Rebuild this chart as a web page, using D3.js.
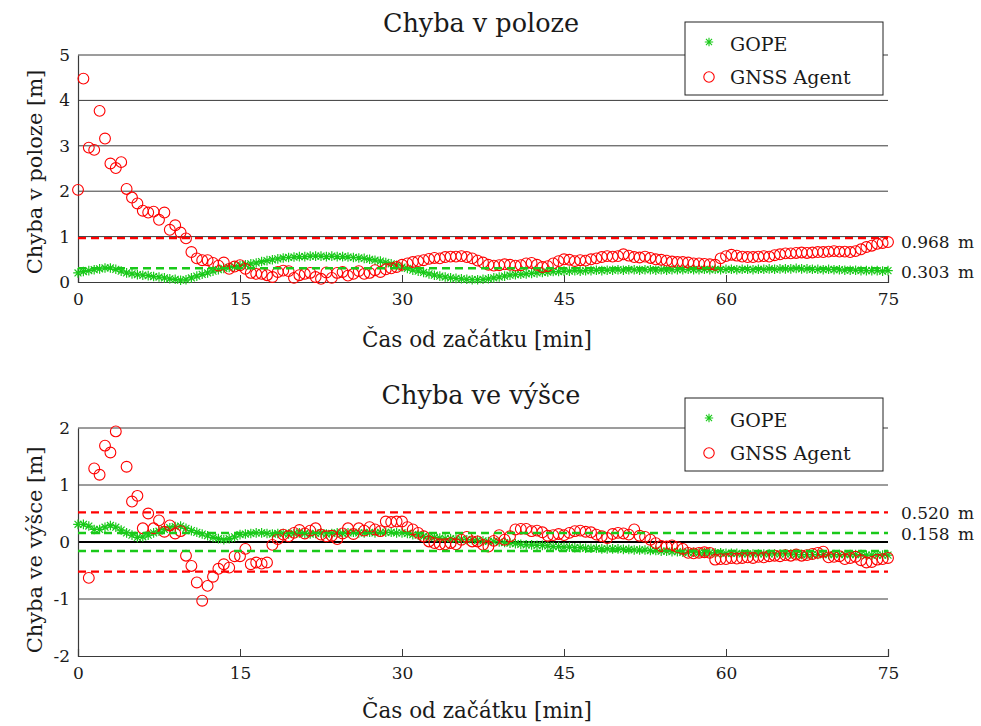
<!DOCTYPE html>
<html>
<head>
<meta charset="utf-8">
<script src="https://cdn.jsdelivr.net/npm/d3@7"></script>
<style>
  html, body { margin: 0; padding: 0; background: #fff; }
  svg { display: block; }
  text { font-family: "DejaVu Serif", serif; fill: #1a1a1a; }
</style>
</head>
<body>
<svg id="chart" width="981" height="726"></svg>
<script>
// Sampling interval of both receivers (minutes)
const stepMin = 0.5;

// Horizontal position error [m], one value every 0.5 min from 0 to 75 min
const gopePos = [
  0.20,0.23,0.25,0.27,0.29,0.31,0.31,0.28,0.24,0.20,0.18,0.16,0.15,0.14,0.12,0.11,0.09,0.07,0.06,0.04,
  0.05,0.09,0.13,0.17,0.20,0.24,0.27,0.30,0.32,0.34,0.36,0.38,0.40,0.42,0.45,0.47,0.49,0.51,0.53,0.54,
  0.55,0.56,0.56,0.57,0.57,0.57,0.56,0.57,0.56,0.56,0.55,0.54,0.53,0.52,0.50,0.48,0.46,0.43,0.40,0.37,
  0.33,0.30,0.26,0.24,0.21,0.18,0.15,0.13,0.11,0.09,0.08,0.07,0.06,0.05,0.05,0.06,0.07,0.09,0.11,0.13,
  0.15,0.16,0.17,0.18,0.19,0.20,0.21,0.22,0.23,0.23,0.24,
  0.24,0.25,0.24,0.25,0.25,0.26,0.25,0.26,0.26,0.27,0.26,0.27,0.27,0.26,0.27,0.27,0.26,0.27,0.26,0.27,
  0.27,0.27,0.28,0.27,0.27,0.28,0.27,0.28,0.27,0.28,0.28,0.27,0.28,0.28,0.27,0.28,0.28,0.29,0.28,0.29,
  0.29,0.29,0.30,0.29,0.29,0.28,0.28,0.27,0.28,0.27,0.27,0.26,0.26,0.26,0.25,0.25,0.25,0.25,0.24,0.25
];
const agentPos = [
  2.03,4.48,2.96,2.91,3.77,3.16,2.61,2.51,2.64,2.05,1.86,1.73,1.57,1.53,1.55,1.37,1.53,1.15,1.25,1.09,
  0.96,0.66,0.52,0.48,0.48,0.42,0.36,0.43,0.29,0.34,0.37,0.29,0.20,0.18,0.18,0.15,0.11,0.22,0.25,0.24,
  0.09,0.15,0.18,0.20,0.11,0.07,0.21,0.09,0.20,0.22,0.14,0.18,0.24,0.18,0.20,0.26,0.22,0.28,0.30,0.33,
  0.38,0.41,0.44,0.46,0.48,0.51,0.53,0.52,0.55,0.56,0.56,0.57,0.55,0.52,0.47,0.43,0.38,0.36,0.37,0.39,
  0.38,0.36,0.37,0.41,0.42,0.38,0.33,0.35,0.41,0.46,0.50,
  0.49,0.46,0.48,0.47,0.50,0.52,0.55,0.57,0.56,0.57,0.61,0.58,0.55,0.54,0.56,0.53,0.50,0.49,0.47,0.45,
  0.44,0.44,0.43,0.41,0.41,0.40,0.39,0.38,0.52,0.57,0.60,0.58,0.56,0.55,0.55,0.56,0.57,0.56,0.59,0.61,
  0.63,0.63,0.64,0.65,0.64,0.65,0.66,0.66,0.67,0.68,0.67,0.67,0.66,0.68,0.72,0.77,0.80,0.84,0.86,0.88
];

// Vertical (height) error [m]; null = sample outside the plotted range
const gopeHgt = [
  0.31,0.31,0.28,0.22,0.22,0.26,0.29,0.26,0.21,0.16,0.12,0.08,0.09,0.12,0.16,0.19,0.22,0.25,0.27,0.28,
  0.24,0.20,0.17,0.14,0.11,0.08,0.06,0.04,0.06,0.09,0.13,0.14,0.15,0.16,0.16,0.15,0.14,0.15,0.15,0.14,
  0.15,0.16,0.15,0.14,0.15,0.16,0.14,0.15,0.16,0.15,0.16,0.17,0.16,0.16,0.17,0.16,0.17,0.17,0.17,0.16,
  0.16,0.15,0.13,0.12,0.10,0.09,0.08,0.07,0.06,0.06,0.05,0.05,0.04,0.04,0.03,0.02,0.01,0.01,0.00,-0.01,
  -0.02,-0.03,-0.04,-0.05,-0.05,-0.06,-0.06,-0.07,-0.08,-0.08,-0.09,
  -0.09,-0.10,-0.10,-0.11,-0.11,-0.11,-0.12,-0.12,-0.12,-0.12,-0.13,-0.13,-0.14,-0.14,-0.14,-0.15,-0.15,-0.16,-0.16,-0.17,
  -0.17,-0.18,-0.18,-0.18,-0.19,-0.19,-0.19,-0.19,-0.19,-0.20,-0.20,-0.20,-0.21,-0.21,-0.21,-0.21,-0.21,-0.21,-0.21,-0.21,
  -0.21,-0.21,-0.22,-0.22,-0.22,-0.22,-0.22,-0.22,-0.22,-0.22,-0.22,-0.22,-0.22,-0.22,-0.22,-0.23,-0.23,-0.23,-0.23,-0.23
];
const agentHgt = [
  null,null,-0.63,1.29,1.18,1.69,1.57,1.94,null,1.32,0.71,0.81,0.24,0.50,0.24,0.38,0.18,0.29,0.15,0.19,
  -0.24,-0.42,-0.71,-1.03,-0.77,-0.61,-0.47,-0.39,-0.45,-0.25,-0.25,-0.12,-0.39,-0.36,-0.38,-0.36,-0.05,0.05,0.13,0.10,
  0.16,0.21,0.15,0.20,0.24,0.13,0.10,0.11,0.05,0.15,0.24,0.14,0.24,0.20,0.26,0.22,0.19,0.36,0.35,0.36,
  0.36,0.26,0.22,0.16,0.10,0.01,-0.02,-0.04,-0.04,-0.02,-0.04,0.04,0.09,0.01,0.01,-0.05,-0.08,0.02,0.12,0.04,
  0.10,0.22,0.23,0.23,0.19,0.20,0.17,0.11,0.12,0.14,0.12,
  0.16,0.19,0.20,0.18,0.17,0.13,0.10,0.07,0.14,0.16,0.15,0.13,0.22,0.11,0.09,0.04,-0.02,-0.07,-0.08,-0.06,
  -0.09,-0.12,-0.19,-0.20,-0.19,-0.18,-0.19,-0.31,-0.30,-0.30,-0.28,-0.29,-0.28,-0.27,-0.28,-0.26,-0.27,-0.25,-0.24,-0.25,
  -0.23,-0.24,-0.22,-0.24,-0.23,-0.21,-0.19,-0.17,-0.27,-0.26,-0.25,-0.30,-0.28,-0.26,-0.32,-0.36,-0.35,-0.31,-0.30,-0.28
];

// Reference levels in metres
const posLevels = { gope: 0.303, agent: 0.968 };
const hgtLevels = { gope: 0.158, agent: 0.520 };

// Tick labels
const xTicks = [0, 15, 30, 45, 60, 75];
const posTicks = [0, 1, 2, 3, 4, 5];
const hgtTicks = [-2, -1, 0, 1, 2];

const seriesNames = ["GOPE", "GNSS Agent"];
const titles = ["Chyba v poloze", "Chyba ve výšce"];
const yLabels = ["Chyba v poloze [m]", "Chyba ve výšce [m]"];
const xLabel = "Čas od začátku [min]";

const FONT = "DejaVu Serif";
const GREEN = "#19c919";
const RED = "#ff0000";
const GRID = "#3a3a3a";
const STAR = 4.8;
const RING = 5.4;

const svg = d3.select("#chart");

function toPoints(values) {
  return values.map((v, i) => ({ t: i * stepMin, v })).filter(d => d.v !== null);
}

function asteriskPath(s) {
  const a = s * 0.72;
  return `M${-s},0L${s},0M0,${-s}L0,${s}M${-a},${-a}L${a},${a}M${-a},${a}L${a},${-a}`;
}

function drawPanel(cfg) {
  const x = d3.scaleLinear().domain([0, 75]).range([78, 888]);
  const y = d3.scaleLinear().domain(cfg.domain).range(cfg.range);
  const g = svg.append("g");

  // horizontal grid lines (not at the bottom axis nor at zero)
  g.append("g").selectAll("line")
    .data(cfg.ticks.filter(v => v !== cfg.domain[0] && v !== 0))
    .join("line")
    .attr("x1", x(0)).attr("x2", x(75))
    .attr("y1", d => y(d)).attr("y2", d => y(d))
    .attr("stroke", GRID).attr("stroke-width", 1);

  // zero reference line for signed errors
  if (cfg.domain[0] < 0) {
    g.append("line")
      .attr("x1", x(0)).attr("x2", x(75))
      .attr("y1", y(0)).attr("y2", y(0))
      .attr("stroke", "#000").attr("stroke-width", 2);
  }

  // x axis (inward ticks)
  const xAxis = d3.axisBottom(x).tickValues(xTicks).tickSize(-7).tickFormat(d3.format("d"));
  const gx = g.append("g").attr("transform", `translate(0,${y(cfg.domain[0])})`).call(xAxis)
    .attr("font-family", FONT);
  gx.select(".domain").attr("stroke", GRID).attr("stroke-width", 1.2);
  gx.selectAll(".tick line").attr("stroke", GRID);
  gx.selectAll(".tick text").attr("font-size", 17).attr("fill", "#222").attr("dy", "0.35em").attr("y", 17);

  // y axis
  const yAxis = d3.axisLeft(y).tickValues(cfg.ticks).tickSize(0).tickPadding(8)
    .tickFormat(d => d < 0 ? "-" + Math.abs(d) : String(d));
  const gy = g.append("g").attr("transform", `translate(${x(0)},0)`).call(yAxis)
    .attr("font-family", FONT);
  gy.select(".domain").attr("stroke", GRID).attr("stroke-width", 1.2);
  gy.selectAll(".tick text").attr("font-size", 17).attr("fill", "#222");

  // markers: GOPE asterisks, then GNSS Agent circles
  g.append("g").selectAll("path")
    .data(toPoints(cfg.gope)).join("path")
    .attr("transform", d => `translate(${x(d.t)},${y(d.v)})`)
    .attr("d", asteriskPath(STAR))
    .attr("stroke", GREEN).attr("stroke-width", 1.2).attr("fill", "none");

  g.append("g").selectAll("circle")
    .data(toPoints(cfg.agent)).join("circle")
    .attr("cx", d => x(d.t)).attr("cy", d => y(d.v))
    .attr("r", RING)
    .attr("stroke", RED).attr("stroke-width", 1.1).attr("fill", "none");

  // dashed reference levels
  const levels = [
    { v: cfg.levels.agent, c: RED },
    { v: cfg.levels.gope, c: GREEN }
  ];
  const lines = [];
  levels.forEach(l => {
    lines.push({ v: l.v, c: l.c });
    if (cfg.symmetric) lines.push({ v: -l.v, c: l.c });
  });
  g.append("g").selectAll("line")
    .data(lines).join("line")
    .attr("x1", x(0)).attr("x2", x(75))
    .attr("y1", d => y(d.v)).attr("y2", d => y(d.v))
    .attr("stroke", d => d.c).attr("stroke-width", 2.3)
    .attr("stroke-dasharray", "8,5");

  // level annotations on the right
  g.append("g").selectAll("text")
    .data(levels).join("text")
    .attr("x", 901)
    .attr("y", d => y(d.v) + cfg.labelDy)
    .attr("font-size", 17)
    .attr("word-spacing", 3)
    .text(d => d.v.toFixed(3) + " m");

  // title and axis labels
  g.append("text").attr("x", 481).attr("y", cfg.titleY)
    .attr("text-anchor", "middle").attr("font-size", 25.5).text(cfg.title);
  g.append("text").attr("x", 477).attr("y", cfg.xLabelY)
    .attr("text-anchor", "middle").attr("font-size", 21.5).text(xLabel);
  g.append("text")
    .attr("transform", `translate(42,${cfg.yLabelMid}) rotate(-90)`)
    .attr("text-anchor", "middle").attr("font-size", 21).text(cfg.yLabel);

  // legend
  const lg = g.append("g").attr("transform", `translate(685,${cfg.legendTop})`);
  lg.append("rect").attr("width", 198).attr("height", 73)
    .attr("fill", "#fff").attr("stroke", "#222").attr("stroke-width", 1);
  lg.append("path").attr("transform", "translate(24,20)").attr("d", asteriskPath(4.2))
    .attr("stroke", GREEN).attr("stroke-width", 1.1).attr("fill", "none");
  lg.append("circle").attr("cx", 24).attr("cy", 55).attr("r", 5.2)
    .attr("stroke", RED).attr("stroke-width", 1.1).attr("fill", "none");
  lg.append("text").attr("x", 45).attr("y", 29).attr("font-size", 19).text(seriesNames[0]);
  lg.append("text").attr("x", 45).attr("y", 62).attr("font-size", 19).text(seriesNames[1]);
}

drawPanel({
  domain: [0, 5], range: [282, 55], ticks: posTicks,
  gope: gopePos, agent: agentPos, levels: posLevels, symmetric: false,
  labelDy: 10, title: titles[0], titleY: 32, xLabelY: 347,
  yLabel: yLabels[0], yLabelMid: 172, legendTop: 22
});

drawPanel({
  domain: [-2, 2], range: [656, 428], ticks: hgtTicks,
  gope: gopeHgt, agent: agentHgt, levels: hgtLevels, symmetric: true,
  labelDy: 7, title: titles[1], titleY: 404, xLabelY: 718,
  yLabel: yLabels[1], yLabelMid: 550, legendTop: 398
});
</script>
</body>
</html>
